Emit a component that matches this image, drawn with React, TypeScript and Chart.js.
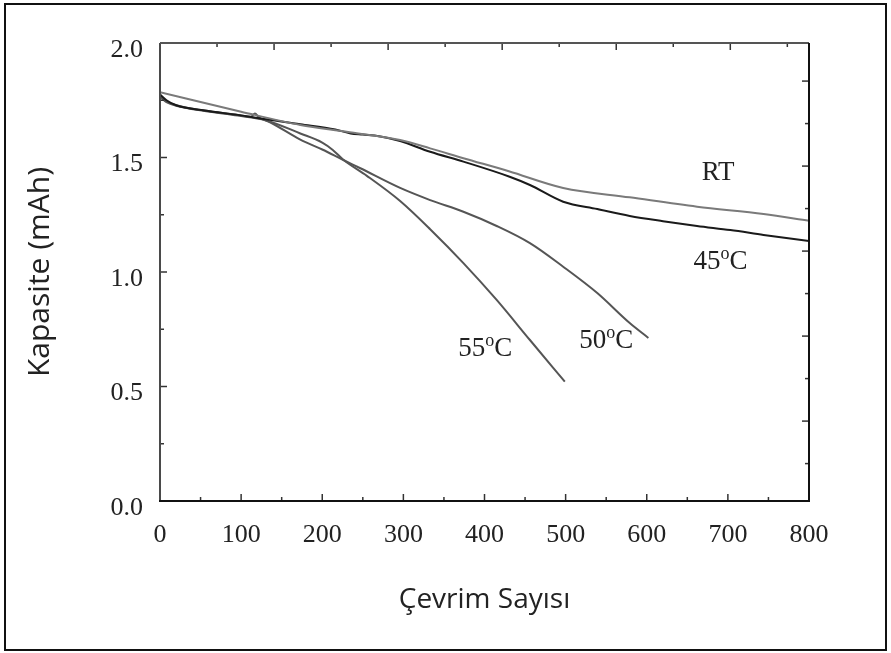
import React, { useEffect, useRef } from "react";
import { Chart, registerables } from "chart.js";

Chart.register(...registerables);

// ---- data ----
const rtCycles = [0, 100, 173, 230, 296, 333, 374, 430, 497, 579, 662, 744, 800];
const rtCapacity = [1.785, 1.7, 1.642, 1.612, 1.576, 1.54, 1.497, 1.44, 1.367, 1.326, 1.285, 1.253, 1.224];

const t45Cycles = [0, 8, 20, 55, 100, 120, 173, 216, 235, 250, 270, 296, 333, 374, 431, 456, 497, 539, 579, 620, 662, 703, 744, 800];
const t45Capacity = [1.775, 1.75, 1.728, 1.705, 1.684, 1.672, 1.645, 1.622, 1.605, 1.6, 1.593, 1.572, 1.525, 1.482, 1.416, 1.38, 1.307, 1.275, 1.245, 1.222, 1.201, 1.183, 1.162, 1.135];

const t50Cycles = [0, 8, 20, 55, 96, 112, 117, 122, 135, 173, 200, 226, 247, 296, 333, 374, 415, 456, 497, 539, 579, 602];
const t50Capacity = [1.768, 1.745, 1.728, 1.705, 1.686, 1.678, 1.692, 1.675, 1.655, 1.578, 1.535, 1.489, 1.453, 1.367, 1.314, 1.263, 1.201, 1.126, 1.023, 0.908, 0.777, 0.712];

const t55Cycles = [0, 8, 20, 55, 96, 130, 173, 200, 213, 226, 255, 296, 333, 374, 415, 456, 499];
const t55Capacity = [1.765, 1.742, 1.726, 1.703, 1.683, 1.663, 1.605, 1.565, 1.533, 1.49, 1.42, 1.31, 1.187, 1.039, 0.878, 0.703, 0.521];

const xTickValues = [0, 100, 200, 300, 400, 500, 600, 700, 800];
const yTickValues = [0, 0.5, 1.0, 1.5, 2.0];

const seriesNames = ["RT", "45°C", "50°C", "55°C"];

// curve labels: main text, superscript, tail, anchor (data coords, label centre)
const labelMain = ["RT", "45", "50", "55"];
const labelSup = ["", "o", "o", "o"];
const labelTail = ["", "C", "C", "C"];
const labelX = [688, 691, 550, 401];
const labelY = [1.441, 1.052, 0.707, 0.672];

const SERIF = '"Liberation Serif", "Times New Roman", serif';
const SANS = '"Open Sans", "Noto Sans", sans-serif';

const toPoints = (xs: number[], ys: number[]) => xs.map((x, i) => ({ x, y: ys[i] }));

const framePlugin = {
  id: "frameAndLabels",
  beforeDraw(chart: any) {
    const ctx = chart.ctx;
    ctx.save();
    ctx.fillStyle = "#ffffff";
    ctx.fillRect(0, 0, chart.width, chart.height);
    ctx.restore();
  },
  afterDraw(chart: any) {
    const ctx = chart.ctx as CanvasRenderingContext2D;
    const { left, right, top, bottom } = chart.chartArea;
    const xs = chart.scales.x;
    const ys = chart.scales.y;
    const xt = chart.scales.x2;
    const yr = chart.scales.y2;
    ctx.save();
    const line = (x1: number, y1: number, x2: number, y2: number) => {
      ctx.beginPath();
      ctx.moveTo(x1, y1);
      ctx.lineTo(x2, y2);
      ctx.stroke();
    };
    ctx.lineWidth = 1.5;
    ctx.strokeStyle = "#333";
    // bottom ticks
    for (let v = 0; v <= 800; v += 50) {
      const p = xs.getPixelForValue(v);
      const len = v % 100 === 0 ? 7 : 4;
      line(p, bottom, p, bottom - len);
    }
    // left ticks
    for (let v = 0; v <= 2.0001; v += 0.25) {
      const p = ys.getPixelForValue(v);
      const len = Math.abs((v / 0.5) - Math.round(v / 0.5)) < 1e-6 ? 7 : 4;
      line(left, p, left + len, p);
    }
    // top ticks (secondary scale)
    for (let v = 0.5; v <= xt.max + 1e-6; v += 0.5) {
      const p = xt.getPixelForValue(v);
      const len = Math.abs(v - Math.round(v)) < 1e-6 ? 7 : 4;
      line(p, top, p, top + len);
    }
    // right ticks (secondary scale)
    for (let v = Math.ceil(yr.min * 2) / 2; v <= yr.max + 1e-6; v += 0.5) {
      const p = yr.getPixelForValue(v);
      const len = Math.abs(v - Math.round(v)) < 1e-6 ? 7 : 4;
      line(right, p, right - len, p);
    }
    // plot frame
    ctx.lineWidth = 2;
    ctx.strokeStyle = "#4a4a4a";
    line(left, bottom, left, top);
    ctx.strokeStyle = "#555";
    line(left, top, right, top);
    ctx.strokeStyle = "#111";
    line(right, top, right, bottom + 1);
    line(left - 1, bottom, right + 1, bottom);
    // outer picture frame
    ctx.strokeStyle = "#111";
    ctx.lineWidth = 2;
    ctx.strokeRect(5, 4, chart.width - 10, chart.height - 7);

    // curve labels
    const mainSize = 27;
    const supSize = 18;
    ctx.fillStyle = "#222";
    ctx.textBaseline = "alphabetic";
    ctx.textAlign = "left";
    for (let i = 0; i < labelMain.length; i++) {
      ctx.font = `${mainSize}px ${SERIF}`;
      const wMain = ctx.measureText(labelMain[i]).width;
      const wTail = ctx.measureText(labelTail[i]).width;
      ctx.font = `${supSize}px ${SERIF}`;
      const wSup = ctx.measureText(labelSup[i]).width;
      const total = wMain + wSup + wTail;
      const cx = xs.getPixelForValue(labelX[i]);
      const cy = ys.getPixelForValue(labelY[i]);
      const base = cy + mainSize * 0.662 / 2;
      let x = cx - total / 2;
      ctx.font = `${mainSize}px ${SERIF}`;
      ctx.fillText(labelMain[i], x, base);
      x += wMain;
      if (labelSup[i]) {
        ctx.font = `${supSize}px ${SERIF}`;
        ctx.fillText(labelSup[i], x, base - 10);
        x += wSup;
      }
      if (labelTail[i]) {
        ctx.font = `${mainSize}px ${SERIF}`;
        ctx.fillText(labelTail[i], x, base);
      }
    }
    ctx.restore();
  },
};

export default function App() {
  const canvasRef = useRef<HTMLCanvasElement | null>(null);

  useEffect(() => {
    if (!canvasRef.current) return;
    const mk = (label: string, xs: number[], ys: number[], color: string, width: number) => ({
      label,
      data: toPoints(xs, ys),
      borderColor: color,
      backgroundColor: color,
      borderWidth: width,
      pointRadius: 0,
      fill: false,
      cubicInterpolationMode: "monotone" as const,
      xAxisID: "x",
      yAxisID: "y",
    });
    const chart = new Chart(canvasRef.current, {
      type: "line",
      data: {
        datasets: [
          mk(seriesNames[0], rtCycles, rtCapacity, "#7a7a7a", 2),
          mk(seriesNames[1], t45Cycles, t45Capacity, "#1a1a1a", 2),
          mk(seriesNames[2], t50Cycles, t50Capacity, "#555555", 2),
          mk(seriesNames[3], t55Cycles, t55Capacity, "#555555", 2),
        ],
      },
      options: {
        responsive: false,
        animation: false,
        devicePixelRatio: 1,
        layout: { padding: { top: 43, right: 82, left: 0, bottom: 0 } },
        plugins: {
          legend: { display: false },
          tooltip: { enabled: false },
        },
        scales: {
          x: {
            type: "linear",
            position: "bottom",
            min: 0,
            max: 800,
            afterBuildTicks: (s: any) => {
              s.ticks = xTickValues.map((v) => ({ value: v }));
            },
            ticks: {
              font: { family: SERIF, size: 26 },
              color: "#222",
              padding: 19,
              maxRotation: 0,
              autoSkip: false,
            },
            grid: { display: false, drawTicks: false },
            border: { display: false },
            title: {
              display: true,
              text: "Çevrim Sayısı",
              font: { family: SANS, size: 28 },
              color: "#222",
              padding: { top: 0, bottom: 36 },
            },
            afterFit: (s: any) => {
              s.height = 152;
            },
          },
          y: {
            type: "linear",
            position: "left",
            min: 0,
            max: 2,
            afterBuildTicks: (s: any) => {
              s.ticks = yTickValues.map((v) => ({ value: v }));
            },
            ticks: {
              font: { family: SERIF, size: 26 },
              color: "#222",
              padding: 17,
              labelOffset: 7,
              autoSkip: false,
              callback: (v: any) => Number(v).toFixed(1),
            },
            grid: { display: false, drawTicks: false },
            border: { display: false },
            title: {
              display: true,
              text: "Kapasite (mAh)",
              font: { family: SANS, size: 30 },
              color: "#222",
              padding: { top: 22, bottom: 0 },
            },
            afterFit: (s: any) => {
              s.width = 160;
            },
          },
          x2: {
            type: "linear",
            position: "top",
            min: 0,
            max: 5.69,
            ticks: { display: false },
            grid: { display: false, drawTicks: false },
            border: { display: false },
            afterFit: (s: any) => {
              s.height = 0;
            },
          },
          y2: {
            type: "linear",
            position: "right",
            min: 0.06,
            max: 5.448,
            ticks: { display: false },
            grid: { display: false, drawTicks: false },
            border: { display: false },
            afterFit: (s: any) => {
              s.width = 0;
            },
          },
        },
      },
      plugins: [framePlugin],
    });
    return () => chart.destroy();
  }, []);

  return (
    <div style={{ position: "absolute", left: 0, top: 0, width: 891, height: 653, background: "#fff" }}>
      <canvas ref={canvasRef} width={891} height={653} style={{ display: "block" }} />
    </div>
  );
}
